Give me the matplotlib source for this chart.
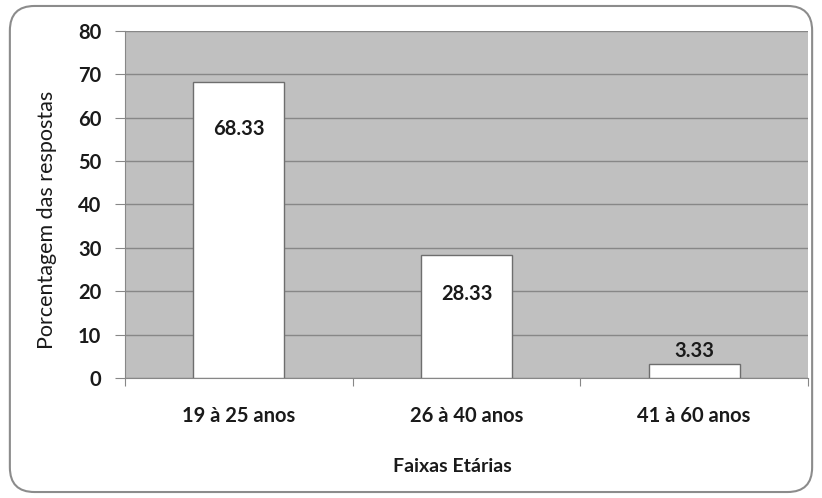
import numpy as np
import matplotlib.pyplot as plt
from matplotlib.patches import FancyBboxPatch

FONT = "Lato"
GRAY = "#c0c0c0"
LINE = "#878787"
W, H = 822, 498

categorias = ["19 à 25 anos", "26 à 40 anos", "41 à 60 anos"]
valores = [68.33, 28.33, 3.33]
rotulos = ["68.33", "28.33", "3.33"]
# label offset from bar top, in points
offsets = [-34, -28, 9]

fig = plt.figure(figsize=(W / 100, H / 100), dpi=100)
fig.patch.set_facecolor("white")
frame = FancyBboxPatch((0.012, 0.012), 0.976, 0.976, boxstyle="round,pad=0,rounding_size=0.03",
                       transform=fig.transFigure, facecolor="none", edgecolor="#8c8c8c", lw=1.5,
                       mutation_aspect=W / H, zorder=-1)
fig.patches.append(frame)

ax = fig.add_axes([125 / W, 1 - 378 / H, 683 / W, 347 / H])
ax.set_facecolor(GRAY)
x = np.arange(len(categorias))
ax.bar(x, valores, width=0.4, color="white", edgecolor="#6e6e6e", lw=1, zorder=3)
for xi, v, r, off in zip(x, valores, rotulos, offsets):
    ax.annotate(r, (xi, v), xytext=(0, off), textcoords="offset points", ha="center", va="center",
                fontsize=14.5, fontweight="bold", family=FONT, color="#1a1a1a", zorder=4)

ax.set_xlim(-0.5, 2.5)
ax.set_ylim(0, 80)
ax.set_yticks(range(0, 81, 10))
ax.yaxis.grid(True, color=LINE, lw=1, zorder=0)
ax.set_axisbelow(True)
ax.set_xticks([-0.5, 0.5, 1.5, 2.5])
ax.set_xticklabels([])
ax.set_xticks(x, minor=True)
ax.set_xticklabels(categorias, minor=True)
ax.tick_params(axis="x", which="minor", length=0, pad=20)
ax.tick_params(axis="x", which="major", length=6, color=LINE, direction="out")
ax.tick_params(axis="y", length=7, color=LINE, pad=10)
for lab in ax.get_xticklabels(minor=True) + ax.get_yticklabels():
    lab.set_fontsize(14.5)
    lab.set_fontweight("bold")
    lab.set_family(FONT)
    lab.set_color("#1a1a1a")
for s in ["top", "right"]:
    ax.spines[s].set_visible(False)
for s in ["left", "bottom"]:
    ax.spines[s].set_color(LINE)

fig.text(47 / W, 1 - 220 / H, "Porcentagem das respostas", rotation=90, ha="center", va="center",
         fontsize=15.5, fontweight="normal", family=FONT, color="#1a1a1a")
fig.text(452 / W, 1 - 466 / H, "Faixas Etárias", ha="center", va="center",
         fontsize=14, fontweight="bold", family=FONT, color="#1a1a1a")

fig.savefig("out.png", dpi=100)
